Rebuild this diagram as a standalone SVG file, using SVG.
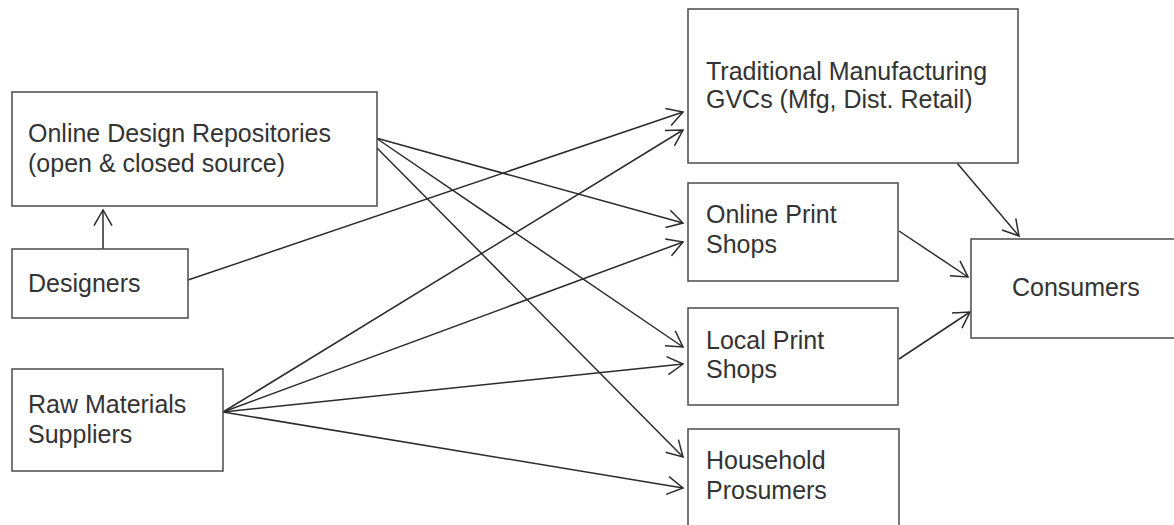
<svg xmlns="http://www.w3.org/2000/svg" width="1174" height="525" viewBox="0 0 1174 525">
<style>
.box{fill:#fff;stroke:#555;stroke-width:1.6}
.lbl{font-family:"Liberation Sans",Arial,sans-serif;font-size:25px;fill:#333}
.edge{fill:none;stroke:#2b2b2b;stroke-width:1.5;marker-end:url(#arr)}
</style>
<defs>
<marker id="arr" markerUnits="userSpaceOnUse" markerWidth="40" markerHeight="40" viewBox="-20 -20 40 40" refX="0" refY="0" orient="auto">
<path d="M-15.6,-9 L0,0 L-15.6,9" fill="none" stroke="#2b2b2b" stroke-width="1.5"/>
</marker>
</defs>
<rect width="1174" height="525" fill="#fff"/>
<g id="connectors">
<line class="edge" x1="103" y1="249" x2="103" y2="210"/>
<line class="edge" x1="376" y1="138" x2="683" y2="223"/>
<line class="edge" x1="376" y1="138" x2="683" y2="347"/>
<line class="edge" x1="376" y1="147" x2="683" y2="457"/>
<line class="edge" x1="188" y1="280" x2="683" y2="112"/>
<line class="edge" x1="223" y1="412" x2="683" y2="130"/>
<line class="edge" x1="223" y1="412" x2="683" y2="242"/>
<line class="edge" x1="223" y1="412" x2="683" y2="364"/>
<line class="edge" x1="223" y1="412" x2="683" y2="488"/>
<line class="edge" x1="957" y1="163" x2="1019" y2="236"/>
<line class="edge" x1="899" y1="231" x2="968" y2="277"/>
<line class="edge" x1="899" y1="359" x2="970" y2="312"/>
</g>
<g id="odr">
<rect class="box" x="12" y="92" width="365" height="114"/>
<text class="lbl" x="28" y="142">Online Design Repositories</text>
<text class="lbl" x="28" y="172">(open &amp; closed source)</text>
</g>
<g id="designers">
<rect class="box" x="12" y="249" width="176" height="69"/>
<text class="lbl" x="28" y="292">Designers</text>
</g>
<g id="raw">
<rect class="box" x="12" y="369" width="211" height="102"/>
<text class="lbl" x="28" y="413">Raw Materials</text>
<text class="lbl" x="28" y="443">Suppliers</text>
</g>
<g id="tm">
<rect class="box" x="688" y="9" width="330" height="154"/>
<text class="lbl" x="706" y="80">Traditional Manufacturing</text>
<text class="lbl" x="706" y="108">GVCs (Mfg, Dist. Retail)</text>
</g>
<g id="ops">
<rect class="box" x="688" y="183" width="210" height="98"/>
<text class="lbl" x="706" y="223">Online Print</text>
<text class="lbl" x="706" y="253">Shops</text>
</g>
<g id="lps">
<rect class="box" x="688" y="308" width="210" height="97"/>
<text class="lbl" x="706" y="349">Local Print</text>
<text class="lbl" x="706" y="378">Shops</text>
</g>
<g id="hp">
<rect class="box" x="688" y="429" width="211" height="110"/>
<text class="lbl" x="706" y="469">Household</text>
<text class="lbl" x="706" y="499">Prosumers</text>
</g>
<g id="consumers">
<rect class="box" x="971" y="239" width="215" height="99"/>
<text class="lbl" x="1012" y="296">Consumers</text>
</g>
</svg>
